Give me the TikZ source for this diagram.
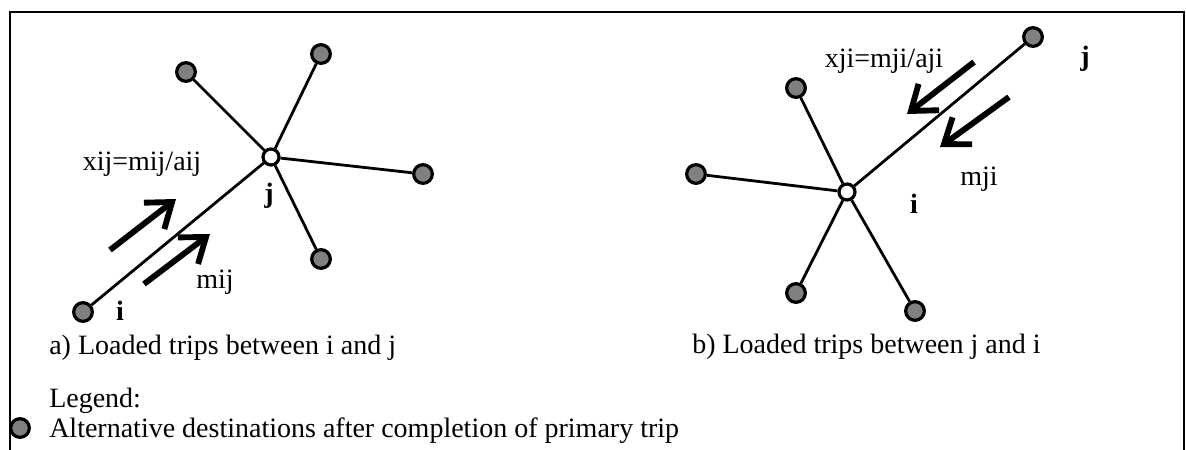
\documentclass[tikz,border=0pt]{standalone}
\usepackage{fontspec}
\setmainfont{Liberation Serif}
\usetikzlibrary{arrows.meta}

\begin{document}
\begin{tikzpicture}
[x=0.75pt,y=-0.75pt,%
  dest/.style={shape=circle,draw,line width=2.4pt,fill=black!50,minimum size=14pt,inner sep=0pt},%
  hub/.style={shape=circle,draw,line width=2.4pt,fill=white,minimum size=12pt,inner sep=0pt},%
  tag/.style={anchor=base,inner sep=0pt},%
  txt/.style={anchor=base west,inner sep=0pt},%
  link/.style={line width=2.1pt},%
  flow/.style={line width=4.4pt,-{Straight Barb[length=17pt,width=25pt]}}]
\fontsize{21}{25}\selectfont
\useasboundingbox (0,0) rectangle (1186,450);
% frame, open at the bottom
\draw[line width=2pt] (10,450) |- (1184,12) -- (1184,450);
% a) trips from i to j
\node[dest] (ia) at (83,312) {};
\node[hub] (ja) at (271,157) {};
\node[dest] (a1) at (186,72) {};
\node[dest] (a2) at (321,54) {};
\node[dest] (a3) at (423,174) {};
\node[dest] (a4) at (321,259) {};
\foreach \n in {ia,a1,a2,a3,a4}
  \draw[link] (ja) -- (\n);
\coordinate (fa1) at (110,250);
\coordinate (ta1) at (176,199);
\coordinate (fa2) at (144,284);
\coordinate (ta2) at (210,234);
\draw[flow] (fa1) -- (ta1);
\draw[flow] (fa2) -- (ta2);
\node[tag] (xa) at (142,170) {xij=mij/aij};
\node[tag] (ma) at (215,288) {mij};
\node[tag] (la) at (269,202) {\textbf{j}};
\node[tag] (ka) at (120,320) {\textbf{i}};
\node[txt] (capa) at (49,354) {a) Loaded trips between i and j};
% b) trips from j to i
\node[dest] (jb) at (1033,37) {};
\node[hub] (ib) at (847,192) {};
\node[dest] (b1) at (796,88) {};
\node[dest] (b2) at (696,174) {};
\node[dest] (b3) at (796,293) {};
\node[dest] (b4) at (915,311) {};
\foreach \n in {jb,b1,b2,b3,b4}
  \draw[link] (ib) -- (\n);
\coordinate (fb1) at (974,62);
\coordinate (tb1) at (907,114);
\coordinate (fb2) at (1009,97);
\coordinate (tb2) at (940,147);
\draw[flow] (fb1) -- (tb1);
\draw[flow] (fb2) -- (tb2);
\node[tag] (xb) at (884,67) {xji=mji/aji};
\node[tag] (mb) at (979,185) {mji};
\node[tag] (lb) at (1085,65) {\textbf{j}};
\node[tag] (kb) at (914,213) {\textbf{i}};
\node[txt] (capb) at (692,353) {b) Loaded trips between j and i};
% legend
\node[txt] (leg) at (49,407) {Legend:};
\node[dest] (key) at (20,428) {};
\node[txt] (keytxt) at (49,437) {Alternative destinations after completion of primary trip};
\end{tikzpicture}
\end{document}
